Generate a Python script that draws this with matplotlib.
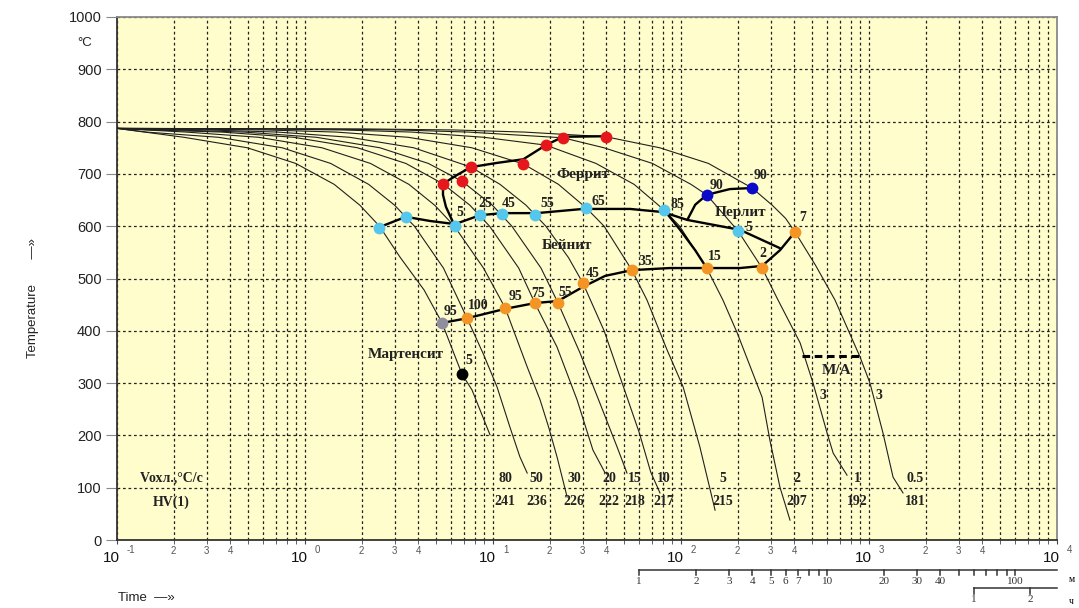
import matplotlib
matplotlib.use("Agg")
import matplotlib.pyplot as plt
from matplotlib import transforms

# ---- cooling curves, time (s) / temperature (C) ----
t_80 = [0.1, 0.227, 0.493, 0.893, 1.43, 1.96, 2.49, 3.2, 4.3, 5.36, 6.84, 7.73, 9.64]
T_80 = [787, 770, 750, 720, 680, 640, 600, 541, 478, 415, 317, 287, 201]
t_50 = [0.1, 0.143, 0.347, 0.755, 1.37, 2.18, 3.0, 3.82, 5.45, 7.28, 8.9, 10.5, 12.3, 13.9, 15.2]
T_50 = [787, 780, 770, 750, 720, 680, 640, 600, 520, 424, 355, 293, 216, 159, 128]
t_30 = [0.1, 0.233, 0.567, 1.23, 2.23, 3.57, 4.9, 6.23, 8.9, 11.6, 15.2, 17.8, 19.8, 21.9, 24.8]
T_30 = [787, 780, 770, 750, 720, 680, 640, 600, 520, 444, 331, 268, 215, 159, 82]
t_20 = [0.1, 0.154, 0.359, 0.872, 1.9, 3.44, 5.42, 7.54, 9.59, 13.7, 16.7, 21.9, 28, 34, 39.5]
T_20 = [787, 784, 780, 770, 750, 720, 681, 640, 600, 520, 453, 369, 268, 172, 128]
t_15 = [0.1, 0.203, 0.473, 1.15, 2.5, 4.53, 6.84, 9.93, 12.6, 18.0, 22.2, 29, 37, 45.7, 51.6]
T_15 = [787, 784, 780, 770, 750, 720, 686, 640, 600, 520, 453, 358, 262, 178, 128]
t_10 = [0.1, 0.306, 0.714, 1.73, 3.78, 7.64, 10.9, 15.0, 19.1, 25.2, 30.1, 39, 48, 60, 69, 77.3]
T_10 = [787, 784, 780, 770, 750, 713, 680, 640, 600, 540, 491, 400, 306, 205, 130, 90]
t_5 = [0.1, 0.208, 0.625, 1.46, 3.54, 7.71, 14.5, 22.3, 31.3, 39.0, 54.8, 65.9, 84.4, 102.6, 126, 151.8]
T_5 = [787, 786, 784, 780, 770, 750, 719, 680, 635, 600, 516, 459, 363, 293, 178, 57]
t_2 = [0.1, 0.53, 1.58, 3.68, 8.95, 19.1, 35.3, 56.3, 81.3, 98.4, 137, 167, 199, 270, 297, 336, 380]
T_2 = [787, 786, 784, 780, 770, 755, 720, 680, 631, 600, 520, 459, 396, 273, 191, 101, 38]
t_1 = [0.1, 1.05, 3.16, 7.37, 23.6, 38.9, 70.5, 113, 137, 201, 270, 328, 430, 504, 598, 645, 764]
T_1 = [787, 786, 784, 780, 769, 750, 720, 680, 660, 591, 520, 459, 377, 300, 205, 166, 124]
t_05 = [0.1, 2.08, 6.25, 14.6, 39.9, 77, 140, 239, 306, 360, 404, 520, 659, 896, 1012, 1186, 1343, 1517]
T_05 = [787, 786, 784, 780, 771, 750, 720, 673, 640, 615, 589, 525, 459, 350, 300, 205, 120, 90]

curves = [(t_80, T_80), (t_50, T_50), (t_30, T_30), (t_20, T_20), (t_15, T_15),
          (t_10, T_10), (t_5, T_5), (t_2, T_2), (t_1, T_1), (t_05, T_05)]

rate_labels = ["80", "50", "30", "20", "15", "10", "5", "2", "1", "0.5"]
hv_labels = ["241", "236", "226", "222", "218", "217", "215", "207", "192", "181"]
label_t = [11.6, 17.1, 27.0, 41.4, 56.9, 81.3, 167, 414, 863, 1758]

# ---- transformation lines ----
ferrite_t = [6.12, 5.62, 5.42, 5.42, 6.44, 7.64, 10.5, 14.5, 19.1, 23.6, 39.9]
ferrite_T = [608, 637, 660, 681, 698, 713, 721, 728, 755, 771, 772]
bainite_t = [2.44, 3.44, 4.62, 6.28, 8.53, 11.2, 17.1, 30.1, 53.6, 80.2, 108, 206, 336]
bainite_T = [597, 618, 610, 604, 621, 625, 625, 633, 633, 627, 612, 593, 558]
bfinish_t = [5.36, 7.28, 11.6, 16.7, 22.2, 30.1, 39.5, 54.8, 87.3, 137, 206, 270, 336, 404]
bfinish_T = [415, 424, 442, 453, 457, 484, 505, 516, 520, 520, 520, 524, 554, 589]
fp_end_t = [81.3, 98.9, 119, 137]
fp_end_T = [631, 593, 554, 520]
pearlite_t = [108, 119, 137, 182, 239]
pearlite_T = [612, 641, 660, 671, 673]
ma_t = [440, 896]
ma_T = [352, 352]

# ---- measured points ----
red_t = [5.42, 6.84, 7.64, 14.5, 19.1, 23.6, 39.9]
red_T = [681, 686, 713, 719, 755, 769, 771]
lblue_t = [2.48, 3.44, 6.28, 8.53, 11.2, 16.7, 31.3, 81.3, 201]
lblue_T = [597, 618, 600, 621, 623, 621, 635, 631, 591]
lblue_lab = ["", "", "5", "25", "45", "55", "65", "85", "5"]
dblue_t = [137, 239]
dblue_T = [660, 673]
dblue_lab = ["90", "90"]
orange_t = [7.28, 11.6, 16.7, 22.2, 30.1, 54.8, 137, 270, 404]
orange_T = [424, 444, 453, 453, 491, 516, 520, 520, 589]
orange_lab = ["100", "95", "75", "55", "45", "35", "15", "2", "7"]
gray_t, gray_T, gray_lab = [5.36], [415], ["95"]
black_t, black_T, black_lab = [6.84], [317], ["5"]

# label offsets in pixels (x, y up)
lblue_off = [(0, 0), (0, 0), (5, 14), (5, 12), (6, 11), (12, 12), (12, 6), (13, 5), (11, 3)]
dblue_off = [(10, 9), (8, 13)]
orange_off = [(11, 13), (10, 11), (3, 10), (7, 11), (10, 10), (13, 9), (8, 12), (1, 15), (8, 14)]

minute_ticks = [1, 2, 3, 4, 5, 6, 7, 8, 9, 10, 20, 30, 40, 50, 60, 70, 80, 90, 100]
minute_labels = ["1", "2", "3", "4", "5", "6", "7", "", "", "10", "20", "30", "40",
                 "", "", "", "", "", "100"]
hour_ticks = [1, 2]

W, H = 1079, 608
BG = "#FFFDCC"
SERIF = ["Liberation Serif", "DejaVu Serif"]
SANS = ["Liberation Sans", "DejaVu Sans"]


def fx(x):
    return x / W


def fy(y):
    return 1 - y / H


def main():
    fig = plt.figure(figsize=(W / 100, H / 100), dpi=100)
    ax = fig.add_axes([fx(117), fy(540), (1057 - 117) / W, (540 - 17) / H])
    ax.set_facecolor(BG)
    ax.set_xscale("log")
    ax.set_xlim(0.1, 1e4)
    ax.set_ylim(0, 1000)

    dot = (0, (2.2, 2.2))
    ax.grid(which="both", axis="x", ls=dot, color="#222222", lw=0.9)
    ax.grid(which="major", axis="y", ls=dot, color="#222222", lw=0.9)
    ax.set_axisbelow(True)

    ax.set_yticks(range(0, 1001, 100))
    ax.tick_params(axis="y", length=8, color="#888888", labelsize=10.5,
                   labelcolor="#222222", pad=3)
    for lab in ax.get_yticklabels():
        lab.set_family(SANS)
    ax.tick_params(axis="x", which="both", length=3, color="#444444",
                   labelbottom=False)
    for side in ["top", "right"]:
        ax.spines[side].set_color("#8a8a8a")
        ax.spines[side].set_linewidth(1.3)
    for side in ["left", "bottom"]:
        ax.spines[side].set_color("#333333")
        ax.spines[side].set_linewidth(1.3)

    # cooling curves
    for t, T in curves:
        ax.plot(t, T, color="#202020", lw=0.8, zorder=3)

    # transformation boundaries
    for t, T in [(ferrite_t, ferrite_T), (bainite_t, bainite_T), (bfinish_t, bfinish_T),
                 (fp_end_t, fp_end_T), (pearlite_t, pearlite_T)]:
        ax.plot(t, T, color="black", lw=1.7, zorder=4, solid_capstyle="round")
    ax.plot(ma_t, ma_T, color="black", lw=2.2, ls=(0, (2.5, 1.5)), zorder=4)

    mk = dict(marker="o", ls="none", ms=8.5, zorder=5, mew=0)
    ax.plot(red_t, red_T, color="#E5171C", **mk)
    ax.plot(lblue_t, lblue_T, color="#55C6EC", **mk)
    ax.plot(dblue_t, dblue_T, color="#0A0AC8", **mk)
    ax.plot(orange_t, orange_T, color="#F39425", **mk)
    ax.plot(gray_t, gray_T, color="#8E8E9C", **mk)
    ax.plot(black_t, black_T, color="black", **mk)

    lab_kw = dict(textcoords="offset pixels", ha="center", va="center",
                  fontsize=10, fontweight="bold", family=SERIF, color="#222222", zorder=6)
    groups = [(lblue_t, lblue_T, lblue_lab, lblue_off),
              (dblue_t, dblue_T, dblue_lab, dblue_off),
              (orange_t, orange_T, orange_lab, orange_off),
              (gray_t, gray_T, gray_lab, [(8, 11)]),
              (black_t, black_T, black_lab, [(7, 14)])]
    for ts, Ts, labs, offs in groups:
        for t, T, s, o in zip(ts, Ts, labs, offs):
            if s:
                ax.annotate(s, (t, T), xytext=o, **lab_kw)

    reg = dict(fontsize=11, fontweight="bold", family=SERIF, color="#222222",
               ha="center", va="center", zorder=6)
    ax.text(30.1, 698, "Феррит", **reg)
    ax.text(24.8, 564, "Бейнит", **reg)
    ax.text(206, 627, "Перлит", **reg)
    ax.text(3.44, 354, "Мартенсит", **reg)
    ax.text(676, 325, "M/A", **reg)
    small = dict(reg, fontsize=10)
    ax.text(569, 277, "3", **small)
    ax.text(1130, 277, "3", **small)

    for t, r, h in zip(label_t, rate_labels, hv_labels):
        ax.text(t, 118, r, **small)
        ax.text(t, 73, h, **small)
    fig.text(fx(172), fy(478), "Vохл.,°C/c", **small)
    fig.text(fx(171), fy(502), "HV(1)", **small)

    # decade / minor tick labels below the axis
    bx = transforms.blended_transform_factory(ax.transData, fig.transFigure)
    for k in range(-1, 5):
        dec = 10.0 ** k
        fig.text(dec, fy(558), "10", transform=transforms.offset_copy(bx, fig, x=3, y=0, units="dots"),
                 ha="right", va="center", fontsize=11, family=SANS, color="#111111")
        fig.text(dec, fy(550), str(k), transform=transforms.offset_copy(bx, fig, x=10, y=0, units="dots"),
                 ha="left", va="center", fontsize=7, family=SANS, color="#555555")
        if k < 4:
            for m in (2, 3, 4):
                fig.text(m * dec, fy(551), str(m), transform=bx, ha="center", va="center",
                         fontsize=7, family=SANS, color="#555555")

    # minutes scale
    y_m = fy(570)
    ax_line = dict(transform=bx, color="#333333", lw=1.1, clip_on=False)
    fig.add_artist(plt.Line2D([60, 1e4], [y_m, y_m], **ax_line))
    for m, s in zip(minute_ticks, minute_labels):
        fig.add_artist(plt.Line2D([m * 60, m * 60], [y_m, fy(575)], **ax_line))
        if s:
            fig.text(m * 60, fy(582), s, transform=bx, ha="center", va="center",
                     fontsize=8, family=SERIF, color="#333333")
    # hours scale
    y_h = fy(588)
    fig.add_artist(plt.Line2D([3600, 1e4], [y_h, y_h], **ax_line))
    for h in hour_ticks:
        fig.add_artist(plt.Line2D([h * 3600, h * 3600], [y_h, fy(594)], **ax_line))
        fig.text(h * 3600, fy(600), str(h), transform=bx, ha="center", va="center",
                 fontsize=8, family=SERIF, color="#333333")
    fig.text(fx(1069), fy(580), "м", ha="left", va="center", fontsize=7, family=SERIF)
    fig.text(fx(1069), fy(601), "ч", ha="left", va="center", fontsize=7, family=SERIF)

    fig.text(fx(85), fy(43), "°C", ha="center", va="center", fontsize=9.5,
             family=SANS, color="#222222")
    fig.text(fx(33), fy(298), "Temperature       —»", rotation=90, ha="center", va="center",
             fontsize=9.5, family=SANS, color="#222222")
    fig.text(fx(118), fy(598), "Time  —»", ha="left", va="center", fontsize=9.5,
             family=SANS, color="#222222")

    fig.savefig("out.png", dpi=100)


if __name__ == "__main__":
    main()
